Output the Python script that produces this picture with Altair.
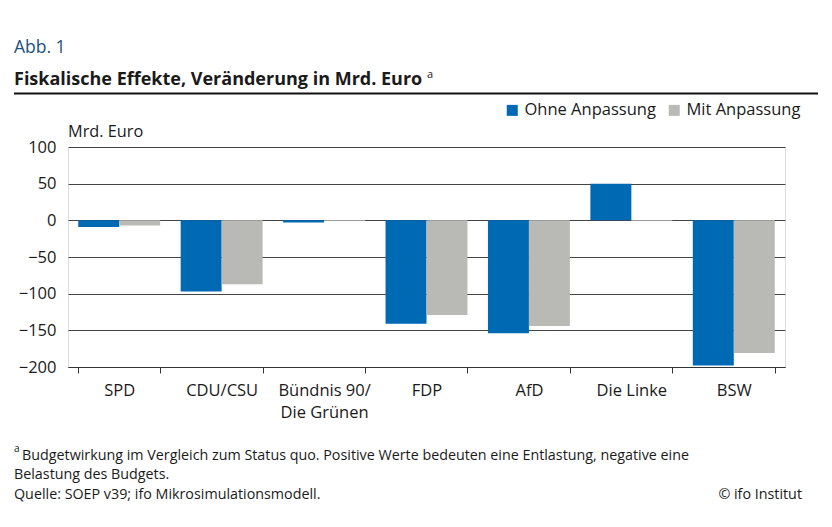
import altair as alt
import pandas as pd

categories = ["SPD", "CDU/CSU", "Bündnis 90/Die Grünen", "FDP", "AfD", "Die Linke", "BSW"]
series = ["Ohne Anpassung", "Mit Anpassung"]
ohne = [-9, -97, -3, -141, -154, 50, -198]
mit = [-7, -87, -1, -129, -144, -1, -181]
y_ticks = [-200, -150, -100, -50, 0, 50, 100]
colors = ["#0069B4", "#B9B9B5"]

rows = []
for c, a, b in zip(categories, ohne, mit):
    rows.append({"Partei": c, "Serie": series[0], "Wert": a})
    rows.append({"Partei": c, "Serie": series[1], "Wert": b})
df = pd.DataFrame(rows)

FONT = "Open Sans"
TXT = "#1a1a1a"

bars = alt.Chart(df).mark_bar().encode(
    x=alt.X("Partei:N", sort=categories,
            scale=alt.Scale(paddingInner=0.2, paddingOuter=0.1),
            axis=alt.Axis(title=None, labelAngle=0, tickBand="extent", ticks=True,
                          tickSize=6, tickColor="#333", domainColor="#333",
                          labelFontSize=16.5, labelColor=TXT, labelPadding=9,
                          labelFont=FONT, labelLineHeight=22,
                          labelExpr="datum.label == 'Bündnis 90/Die Grünen' ? ['Bündnis 90/', 'Die Grünen'] : datum.label")),
    xOffset=alt.XOffset("Serie:N", sort=series,
                        scale=alt.Scale(paddingInner=0, paddingOuter=0)),
    y=alt.Y("Wert:Q", scale=alt.Scale(domain=[-200, 100], nice=False),
            axis=alt.Axis(title=None, values=y_ticks, ticks=False, domain=False,
                          grid=True, gridColor="#444", gridWidth=1,
                          labelExpr="datum.value < 0 ? '\u2212' + abs(datum.value) : '' + datum.value",
                          labelFontSize=16.5, labelColor=TXT, labelPadding=12, labelFont=FONT)),
    color=alt.Color("Serie:N", sort=series,
                    scale=alt.Scale(domain=series, range=colors),
                    legend=alt.Legend(title=None, orient="none", legendX=436, legendY=-45,
                                      direction="horizontal", symbolType="square",
                                      symbolSize=121, symbolStrokeWidth=0,
                                      labelFontSize=16.5, labelColor=TXT, labelFont=FONT,
                                      columnPadding=10, labelOffset=4)),
)

one = alt.Data(values=[{}])

def txt(s, x, y, size=15, weight="normal", color=TXT, align="left", baseline="alphabetic"):
    return alt.Chart(one).mark_text(
        text=s, fontSize=size, fontWeight=weight, color=color, font=FONT,
        align=align, baseline=baseline
    ).encode(x=alt.value(x), y=alt.value(y))

layers = [
    bars,
    txt("Abb. 1", -54, -94, size=17.5, color="#22527f"),
    txt("Fiskalische Effekte, Veränderung in Mrd. Euro", -54, -62, size=18, weight="bold"),
    txt("a", 359, -69, size=11),
    alt.Chart(one).mark_rule(color="#111", strokeWidth=2).encode(
        x=alt.value(-54), x2=alt.value(750), y=alt.value(-53.5)),
    txt("Mrd. Euro", 0, -10, size=16.3),
    txt("a", -54, 305, size=10),
    txt("Budgetwirkung im Vergleich zum Status quo. Positive Werte bedeuten eine Entlastung, negative eine",
        -46, 313, size=14.3),
    txt("Belastung des Budgets.", -54, 332, size=14.3),
    txt("Quelle: SOEP v39; ifo Mikrosimulationsmodell.", -54, 352, size=14.3),
    txt("© ifo Institut", 734, 352, size=14.3, align="right"),
]

chart = alt.layer(*layers).properties(
    width=717, height=220,
    autosize=alt.AutoSizeParams(type="none"),
    padding={"left": 60, "top": 139, "right": 39, "bottom": 152},
).configure_view(stroke=None).configure(background="white")

chart.save("out.html", embed_options={"renderer": "svg", "actions": False})
